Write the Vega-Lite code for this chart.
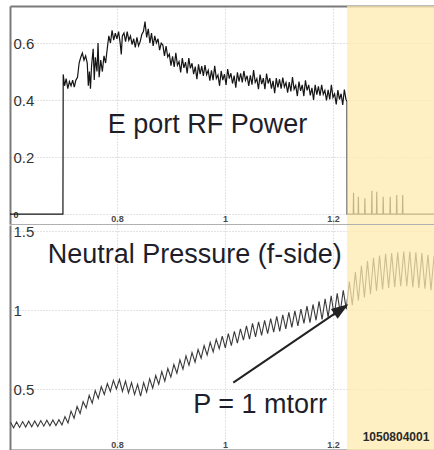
{
  "$schema": "https://vega.github.io/schema/vega-lite/v6.json",
  "padding": {"left": 10, "top": 6, "right": 0, "bottom": 0},
  "spacing": 0,
  "config": {
    "font": "Liberation Sans",
    "view": {"stroke": null},
    "axis": {
      "title": null,
      "ticks": false,
      "tickSize": 0,
      "grid": true,
      "gridColor": "#c4c4c4",
      "gridDash": [1, 2],
      "gridWidth": 1,
      "labelOverlap": false,
      "labelFlush": false,
      "labelBound": false,
      "format": "~g",
      "zindex": 1
    }
  },
  "datasets": {
    "rf": [
      {"x":0.602,"y":0},{"x":0.700,"y":0},{"x":0.7005,"y":0.49},{"x":0.703,"y":0.45},{"x":0.706,"y":0.475},{"x":0.709,"y":0.44},{"x":0.712,"y":0.465},{"x":0.715,"y":0.45},{"x":0.718,"y":0.47},{"x":0.721,"y":0.445},{"x":0.724,"y":0.47},{"x":0.727,"y":0.48},{"x":0.730,"y":0.53},{"x":0.733,"y":0.55},{"x":0.736,"y":0.565},{"x":0.739,"y":0.54},{"x":0.742,"y":0.555},{"x":0.745,"y":0.53},{"x":0.747,"y":0.45},{"x":0.749,"y":0.50},{"x":0.751,"y":0.44},{"x":0.753,"y":0.52},{"x":0.756,"y":0.58},{"x":0.758,"y":0.47},{"x":0.760,"y":0.55},{"x":0.763,"y":0.50},{"x":0.765,"y":0.60},{"x":0.767,"y":0.48},{"x":0.770,"y":0.54},{"x":0.773,"y":0.50},{"x":0.776,"y":0.555},{"x":0.779,"y":0.53},{"x":0.782,"y":0.58},{"x":0.785,"y":0.625},{"x":0.788,"y":0.60},{"x":0.791,"y":0.645},{"x":0.794,"y":0.61},{"x":0.797,"y":0.635},{"x":0.800,"y":0.615},{"x":0.803,"y":0.64},{"x":0.806,"y":0.60},{"x":0.808,"y":0.56},{"x":0.810,"y":0.625},{"x":0.813,"y":0.635},{"x":0.816,"y":0.605},{"x":0.819,"y":0.64},{"x":0.822,"y":0.61},{"x":0.825,"y":0.625},{"x":0.828,"y":0.595},{"x":0.831,"y":0.615},{"x":0.834,"y":0.585},{"x":0.837,"y":0.62},{"x":0.840,"y":0.59},{"x":0.843,"y":0.605},{"x":0.846,"y":0.63},{"x":0.849,"y":0.64},{"x":0.852,"y":0.675},{"x":0.855,"y":0.62},{"x":0.858,"y":0.65},{"x":0.861,"y":0.60},{"x":0.864,"y":0.635},{"x":0.867,"y":0.59},{"x":0.870,"y":0.625},{"x":0.873,"y":0.60},{"x":0.876,"y":0.615},{"x":0.879,"y":0.575},{"x":0.882,"y":0.60},
      {"x":0.885,"y":0.593},{"x":0.888,"y":0.555},{"x":0.891,"y":0.589},{"x":0.894,"y":0.551},{"x":0.897,"y":0.561},{"x":0.900,"y":0.521},{"x":0.903,"y":0.553},{"x":0.906,"y":0.516},{"x":0.909,"y":0.566},{"x":0.912,"y":0.522},{"x":0.915,"y":0.535},{"x":0.918,"y":0.497},{"x":0.921,"y":0.547},{"x":0.924,"y":0.513},{"x":0.927,"y":0.533},{"x":0.930,"y":0.493},{"x":0.933,"y":0.547},{"x":0.936,"y":0.511},{"x":0.939,"y":0.529},{"x":0.942,"y":0.491},{"x":0.945,"y":0.517},{"x":0.948,"y":0.473},{"x":0.951,"y":0.525},{"x":0.954,"y":0.491},{"x":0.957,"y":0.519},{"x":0.960,"y":0.485},{"x":0.963,"y":0.523},{"x":0.966,"y":0.489},{"x":0.969,"y":0.504},{"x":0.972,"y":0.468},{"x":0.975,"y":0.504},{"x":0.978,"y":0.470},{"x":0.981,"y":0.520},{"x":0.984,"y":0.476},{"x":0.987,"y":0.488},{"x":0.990,"y":0.450},{"x":0.993,"y":0.502},{"x":0.996,"y":0.470},{"x":0.999,"y":0.491},{"x":1.002,"y":0.453},{"x":1.005,"y":0.509},{"x":1.008,"y":0.475},{"x":1.011,"y":0.494},{"x":1.014,"y":0.458},{"x":1.017,"y":0.486},{"x":1.020,"y":0.443},{"x":1.023,"y":0.497},{"x":1.026,"y":0.465},{"x":1.029,"y":0.494},{"x":1.032,"y":0.462},{"x":1.035,"y":0.502},{"x":1.038,"y":0.469},{"x":1.041,"y":0.485},{"x":1.044,"y":0.450},{"x":1.047,"y":0.487},{"x":1.050,"y":0.454},{"x":1.053,"y":0.505},{"x":1.056,"y":0.462},{"x":1.059,"y":0.475},{"x":1.062,"y":0.438},{"x":1.065,"y":0.489},{"x":1.068,"y":0.456},{"x":1.071,"y":0.477},{"x":1.074,"y":0.438},{"x":1.077,"y":0.493},{"x":1.080,"y":0.458},{"x":1.083,"y":0.477},{"x":1.086,"y":0.440},{"x":1.089,"y":0.467},{"x":1.092,"y":0.424},{"x":1.095,"y":0.477},{"x":1.098,"y":0.444},{"x":1.101,"y":0.473},{"x":1.104,"y":0.440},{"x":1.107,"y":0.479},{"x":1.110,"y":0.446},{"x":1.113,"y":0.461},{"x":1.116,"y":0.426},{"x":1.119,"y":0.463},{"x":1.122,"y":0.430},{"x":1.125,"y":0.481},{"x":1.128,"y":0.438},{"x":1.131,"y":0.451},{"x":1.134,"y":0.414},{"x":1.137,"y":0.465},{"x":1.140,"y":0.432},{"x":1.143,"y":0.453},{"x":1.146,"y":0.414},{"x":1.149,"y":0.469},{"x":1.152,"y":0.434},{"x":1.155,"y":0.453},{"x":1.158,"y":0.416},{"x":1.161,"y":0.443},{"x":1.164,"y":0.400},{"x":1.167,"y":0.453},{"x":1.170,"y":0.419},{"x":1.173,"y":0.448},{"x":1.176,"y":0.415},{"x":1.179,"y":0.453},{"x":1.182,"y":0.420},{"x":1.185,"y":0.434},{"x":1.188,"y":0.399},{"x":1.191,"y":0.436},{"x":1.194,"y":0.402},{"x":1.197,"y":0.453},{"x":1.200,"y":0.409},{"x":1.203,"y":0.422},{"x":1.206,"y":0.385},{"x":1.209,"y":0.435},{"x":1.212,"y":0.402},{"x":1.215,"y":0.422},{"x":1.218,"y":0.383},{"x":1.221,"y":0.437},{"x":1.224,"y":0.402},{"x":1.226,"y":0.395},{"x":1.2262,"y":0},
      {"x":1.2375,"y":0},{"x":1.238,"y":0.075},{"x":1.2385,"y":0},{"x":1.2465,"y":0},{"x":1.247,"y":0.061},{"x":1.2475,"y":0},{"x":1.2585,"y":0},{"x":1.259,"y":0.055},{"x":1.2595,"y":0},{"x":1.2715,"y":0},{"x":1.272,"y":0.082},{"x":1.2725,"y":0},{"x":1.2805,"y":0},{"x":1.281,"y":0.078},{"x":1.2815,"y":0},{"x":1.2925,"y":0},{"x":1.293,"y":0.061},{"x":1.2935,"y":0},{"x":1.3055,"y":0},{"x":1.306,"y":0.061},{"x":1.3065,"y":0},{"x":1.3175,"y":0},{"x":1.318,"y":0.067},{"x":1.3185,"y":0},{"x":1.3285,"y":0},{"x":1.329,"y":0.067},{"x":1.3295,"y":0},{"x":1.387,"y":0}
    ],
    "pressure": [
      {"x":0.603,"y":0.290},{"x":0.6086,"y":0.255},{"x":0.6142,"y":0.292},{"x":0.6198,"y":0.257},{"x":0.6254,"y":0.294},{"x":0.631,"y":0.259},{"x":0.6366,"y":0.296},{"x":0.6422,"y":0.261},{"x":0.6478,"y":0.298},{"x":0.6534,"y":0.263},{"x":0.659,"y":0.300},{"x":0.6646,"y":0.265},{"x":0.6702,"y":0.302},{"x":0.6758,"y":0.267},{"x":0.6814,"y":0.304},{"x":0.687,"y":0.269},{"x":0.6926,"y":0.306},{"x":0.6982,"y":0.272},{"x":0.7038,"y":0.325},{"x":0.7094,"y":0.285},{"x":0.715,"y":0.36},{"x":0.7206,"y":0.315},{"x":0.7262,"y":0.39},{"x":0.7318,"y":0.345},{"x":0.7374,"y":0.42},{"x":0.743,"y":0.38},{"x":0.7486,"y":0.46},{"x":0.7542,"y":0.41},{"x":0.7598,"y":0.49},{"x":0.7654,"y":0.44},{"x":0.771,"y":0.515},{"x":0.7766,"y":0.465},{"x":0.7822,"y":0.535},{"x":0.7878,"y":0.485},{"x":0.7934,"y":0.555},{"x":0.799,"y":0.50},{"x":0.8046,"y":0.56},{"x":0.8102,"y":0.485},{"x":0.8158,"y":0.55},{"x":0.8214,"y":0.475},{"x":0.827,"y":0.54},{"x":0.8326,"y":0.465},{"x":0.8382,"y":0.53},{"x":0.8438,"y":0.455},{"x":0.8494,"y":0.54},{"x":0.855,"y":0.48},{"x":0.8606,"y":0.565},{"x":0.8662,"y":0.505},{"x":0.8718,"y":0.585},{"x":0.8774,"y":0.53},{"x":0.883,"y":0.61},{"x":0.8886,"y":0.55},{"x":0.8942,"y":0.63},{"x":0.8998,"y":0.575},{"x":0.9054,"y":0.655},{"x":0.911,"y":0.60},{"x":0.9166,"y":0.685},{"x":0.9222,"y":0.625},{"x":0.9278,"y":0.71},{"x":0.9334,"y":0.65},{"x":0.939,"y":0.73},{"x":0.9446,"y":0.67},{"x":0.9502,"y":0.75},{"x":0.9558,"y":0.695},{"x":0.9614,"y":0.775},{"x":0.967,"y":0.715},{"x":0.9726,"y":0.795},{"x":0.9782,"y":0.735},{"x":0.9838,"y":0.815},{"x":0.9894,"y":0.755},{"x":0.995,"y":0.835},{"x":1.0006,"y":0.76},{"x":1.0062,"y":0.85},{"x":1.0118,"y":0.775},{"x":1.0174,"y":0.865},{"x":1.023,"y":0.79},{"x":1.0286,"y":0.88},{"x":1.0342,"y":0.81},{"x":1.0398,"y":0.90},{"x":1.0454,"y":0.815},{"x":1.051,"y":0.915},{"x":1.0566,"y":0.83},{"x":1.0622,"y":0.925},{"x":1.0678,"y":0.84},{"x":1.0734,"y":0.935},{"x":1.079,"y":0.85},{"x":1.0846,"y":0.945},{"x":1.0902,"y":0.86},{"x":1.0958,"y":0.96},{"x":1.1014,"y":0.865},{"x":1.107,"y":0.97},{"x":1.1126,"y":0.88},{"x":1.1182,"y":0.985},{"x":1.1238,"y":0.89},{"x":1.1294,"y":0.995},{"x":1.135,"y":0.90},{"x":1.1406,"y":1.005},{"x":1.1462,"y":0.915},{"x":1.1518,"y":1.025},{"x":1.1574,"y":0.92},{"x":1.163,"y":1.035},{"x":1.1686,"y":0.935},{"x":1.1742,"y":1.055},{"x":1.1798,"y":0.94},{"x":1.1854,"y":1.07},{"x":1.191,"y":0.955},{"x":1.1966,"y":1.09},{"x":1.2022,"y":0.965},{"x":1.2078,"y":1.105},{"x":1.2134,"y":0.985},{"x":1.219,"y":1.125},{"x":1.2246,"y":1.005},{"x":1.2302,"y":1.18},{"x":1.2358,"y":1.03},{"x":1.2414,"y":1.24},{"x":1.247,"y":1.06},{"x":1.2526,"y":1.28},{"x":1.2582,"y":1.08},{"x":1.2638,"y":1.31},{"x":1.2694,"y":1.10},{"x":1.275,"y":1.33},{"x":1.2806,"y":1.12},{"x":1.2862,"y":1.345},{"x":1.2918,"y":1.13},{"x":1.2974,"y":1.355},{"x":1.303,"y":1.14},{"x":1.3086,"y":1.36},{"x":1.3142,"y":1.145},{"x":1.3198,"y":1.365},{"x":1.3254,"y":1.15},{"x":1.331,"y":1.37},{"x":1.3366,"y":1.15},{"x":1.3422,"y":1.37},{"x":1.3478,"y":1.145},{"x":1.3534,"y":1.365},{"x":1.359,"y":1.14},{"x":1.3646,"y":1.36},{"x":1.3702,"y":1.135},{"x":1.3758,"y":1.35},{"x":1.3814,"y":1.125},{"x":1.387,"y":1.34}
    ],
    "shade": [{"start": 1.226, "end": 1.4}],
    "toplabel": [{"x": 0.9676, "y": 0.285, "text": "E port RF Power"}],
    "botlabels": [
      {"x": 0.944, "y": 1.297, "text": "Neutral Pressure (f-side)"},
      {"x": 1.065, "y": 0.348, "text": "P = 1 mtorr"}
    ],
    "shot": [{"x": 1.3167, "y": 0.171, "text": "1050804001"}],
    "arrow": [{"x": 1.0154, "y": 0.540, "x2": 1.2154, "y2": 1.0057}]
  },
  "vconcat": [
    {
      "width": 424,
      "height": 218,
      "resolve": {"axis": {"x": "independent"}},
      "layer": [
        {
          "data": {"name": "rf"},
          "mark": {"type": "line", "color": "#151515", "strokeWidth": 1.2, "clip": true, "interpolate": "linear"},
          "encoding": {
            "x": {"field": "x", "type": "quantitative", "sort": null,
              "scale": {"domain": [0.602, 1.387], "nice": false, "zero": false},
              "axis": {"orient": "bottom", "values": [0.8, 1, 1.2], "labelFontSize": 9, "labelFontWeight": "bold", "labelColor": "#4a4a4a", "labelBaseline": "alphabetic", "labelPadding": -3, "domain": true, "domainColor": "#b0b0b0", "domainWidth": 1}},
            "y": {"field": "y", "type": "quantitative",
              "scale": {"domain": [-0.035, 0.73], "nice": false, "zero": false},
              "axis": {"values": [0, 0.2, 0.4, 0.6], "labelAlign": "left", "labelBaseline": "middle", "labelPadding": -3, "labelColor": "#333333",
                "labelFontSize": {"condition": {"test": "datum.value == 0", "value": 9}, "value": 15},
                "labelFontWeight": {"condition": {"test": "datum.value == 0", "value": "bold"}, "value": "normal"},
                "domain": true, "domainColor": "#7a7a7a", "domainWidth": 2}}
          }
        },
        {
          "data": {"name": "shade"},
          "mark": {"type": "rect", "color": "#FFEBAF", "opacity": 0.75, "clip": true},
          "encoding": {
            "x": {"field": "start", "type": "quantitative", "axis": null},
            "x2": {"field": "end"}
          }
        },
        {
          "data": {"name": "toplabel"},
          "mark": {"type": "text", "fontSize": 27, "color": "#1e1e2a", "align": "center", "baseline": "alphabetic"},
          "encoding": {
            "x": {"field": "x", "type": "quantitative",
              "axis": {"orient": "top", "grid": false, "labels": false, "domain": true, "domainColor": "#7a7a7a", "domainWidth": 2}},
            "y": {"field": "y", "type": "quantitative"},
            "text": {"field": "text"}
          }
        }
      ]
    },
    {
      "width": 424,
      "height": 225,
      "layer": [
        {
          "data": {"name": "pressure"},
          "mark": {"type": "line", "color": "#3a3a3a", "strokeWidth": 1.1, "clip": true},
          "encoding": {
            "x": {"field": "x", "type": "quantitative", "sort": null,
              "scale": {"domain": [0.602, 1.387], "nice": false, "zero": false},
              "axis": {"orient": "bottom", "values": [0.8, 1, 1.2], "labelFontSize": 9, "labelFontWeight": "bold", "labelColor": "#4a4a4a", "labelBaseline": "alphabetic", "labelPadding": -3, "domain": true, "domainColor": "#6e6e6e", "domainWidth": 2}},
            "y": {"field": "y", "type": "quantitative",
              "scale": {"domain": [0.114, 1.538], "nice": false, "zero": false},
              "axis": {"values": [0.5, 1, 1.5], "labelAlign": "left", "labelBaseline": "middle", "labelPadding": -3, "labelColor": "#333333", "labelFontSize": 15,
                "domain": true, "domainColor": "#7a7a7a", "domainWidth": 2}}
          }
        },
        {
          "data": {"name": "shade"},
          "mark": {"type": "rect", "color": "#FFEBAF", "opacity": 0.75, "clip": true},
          "encoding": {
            "x": {"field": "start", "type": "quantitative"},
            "x2": {"field": "end"}
          }
        },
        {
          "data": {"name": "arrow"},
          "mark": {"type": "rule", "color": "#222222", "strokeWidth": 2},
          "encoding": {
            "x": {"field": "x", "type": "quantitative"},
            "y": {"field": "y", "type": "quantitative"},
            "x2": {"field": "x2"},
            "y2": {"field": "y2"}
          }
        },
        {
          "data": {"name": "arrow"},
          "mark": {"type": "point", "shape": "M0,-1L-0.7,1L0.7,1Z", "filled": true, "color": "#222222", "opacity": 1, "size": 289, "angle": 55.7},
          "encoding": {
            "x": {"field": "x2", "type": "quantitative"},
            "y": {"field": "y2", "type": "quantitative"}
          }
        },
        {
          "data": {"name": "botlabels"},
          "mark": {"type": "text", "fontSize": 27, "color": "#1e1e2a", "align": "center", "baseline": "alphabetic"},
          "encoding": {
            "x": {"field": "x", "type": "quantitative"},
            "y": {"field": "y", "type": "quantitative"},
            "text": {"field": "text"}
          }
        },
        {
          "data": {"name": "shot"},
          "mark": {"type": "text", "fontSize": 12, "fontWeight": "bold", "color": "#2a2a2a", "align": "center", "baseline": "alphabetic"},
          "encoding": {
            "x": {"field": "x", "type": "quantitative"},
            "y": {"field": "y", "type": "quantitative"},
            "text": {"field": "text"}
          }
        }
      ]
    }
  ]
}
